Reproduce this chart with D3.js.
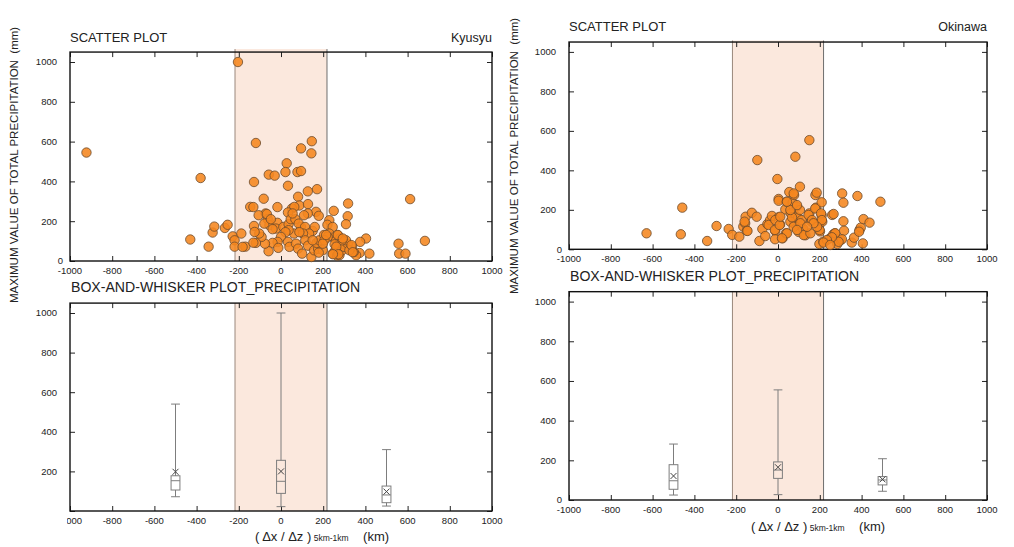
<!DOCTYPE html>
<html>
<head>
<meta charset="utf-8">
<script src="https://cdn.jsdelivr.net/npm/d3@7"></script>
<style>
  html, body { margin: 0; padding: 0; background: #fff; }
  svg { display: block; font-family: "Liberation Sans", Arial, Helvetica, sans-serif; }
</style>
</head>
<body>
<svg id="chart" width="1014" height="547"></svg>
<script>
// ---- axis ticks ----
const xTickValues = [-1000, -800, -600, -400, -200, 0, 200, 400, 600, 800, 1000];
const yTickValues = [0, 200, 400, 600, 800, 1000];

// ---- core band (Δx/Δz range) ----
const coreBand = [-218, 218];

// ---- Kyusyu: scatter (Δx/Δz in km, max total precipitation in mm) ----
const kyusyuDx = [
  -204, -922, -381, -430, -343, -324, -316, -266, -253, -229, -220, -220, -188, -169,
  -119, -128, -58, -30, 27, 21, 78, 95, 33, -82, -17, -146, -131,
  146, 144, 95, 81, 127, 171, 87, 128, 52, 63, 33, 166, 127, 179,
  250, 318, 316, 308, 229, 220, 612, 682, 557, 560, 590, 403, 375, 419, 372, 356, 345, 337,
  -73, -106, -63, -55, -128, -79, -17, -24, -40, 11, 36, 46, 68, 55, 95, 84, 109, 114,
  150, 160, 133, 104, 62, 87, 36, 21, 0, -16, -40, -13, -59, -76, -92, -103, -125, -119,
  -131, -182, 33, 40, 71, 81, 100, 115, 128, 144, 157, 176, 169, 182, 204, 198, 179, 150,
  245, 229, 248, 261, 270, 280, 285, 269, 258, 245, 266, 277, 290, 291, 300, 316, 324,
  308, 290, 221, 206, -67, -48, 269, 293, 254, 262, 272, 246, 334, 340, 198, 214
];
const kyusyuPrecip = [
  1000, 545, 417, 108, 72, 143, 173, 166, 182, 124, 104, 72, 138, 72,
  593, 397, 434, 429, 491, 447, 447, 452, 378, 313, 271, 272, 271,
  602, 541, 566, 323, 350, 361, 279, 286, 264, 272, 244, 247, 239, 227,
  252, 289, 225, 185, 205, 182, 311, 101, 87, 37, 37, 113, 96, 37, 40, 29, 45, 71,
  239, 230, 210, 180, 176, 188, 192, 163, 160, 171, 185, 210, 210, 239, 171, 188, 230, 171,
  151, 171, 138, 138, 138, 145, 155, 145, 121, 96, 91, 66, 49, 87, 121, 138, 146, 91,
  92, 71, 96, 71, 87, 62, 37, 104, 77, 20, 54, 61, 91, 104, 131, 54, 42, 104,
  171, 138, 118, 104, 129, 113, 87, 71, 54, 37, 27, 29, 54, 87, 71, 87, 54,
  104, 104, 121, 104, 236, 210, 131, 113, 84, 72, 34, 34, 80, 44, 87, 131
];

// ---- Okinawa: scatter ----
const okinawaDx = [
  -629, -458, -465, -339, -294, -236, -219, -185, -166, -155, -157, -149, -125, -99, -102,
  -89, -75, -61, -51, -38, -29, -13, -14, -3, 3, 3, 3, 10, 22, 35, 42, 38, 54, 61, 70, 77,
  83, 78, 89, 86, 96, 105, 105, 113, 99, 121, 131, 150, 150, 158, 179, 185, 182, 193, 201,
  209, 209, 212, 198, 217, 249, 259, 265, 272, 278, 284, 300, 307, 313, 313, 316, 353, 364,
  380, 390, 396, 406, 409, 438, 490,
  -45, -13, -15, 8, 11, 43, 59, 67, 75, 59, 43, 91, 107, 123, 155, 146, 163, 178, 206, 210,
  199, 187, -160, -146, 266, 388, 274, 306, 290, 258, 234, 218, 250, 170, 139, 75, 19, 91
];
const okinawaPrecip = [
  81, 211, 76, 42, 118, 103, 73, 64, 115, 165, 132, 94, 185, 452, 165,
  42, 103, 67, 128, 148, 169, 93, 51, 356, 255, 246, 162, 126, 56, 202, 241, 81, 290, 182, 236, 275,
  469, 130, 216, 165, 159, 317, 199, 148, 88, 103, 71, 553, 182, 142, 275, 287, 211, 128, 91,
  238, 172, 140, 27, 39, 56, 174, 76, 81, 51, 27, 47, 283, 236, 142, 94, 34, 59,
  270, 98, 110, 30, 153, 135, 241,
  123, 148, 98, 123, 165, 81, 140, 162, 114, 199, 241, 224, 132, 72, 81, 174, 148, 207, 182, 148,
  98, 114, 140, 93, 179, 89, 81, 51, 38, 61, 47, 34, 22, 132, 114, 283, 56, 98
];

// ---- box-and-whisker summaries at Δx/Δz = -500, 0, 500 ----
const boxCenters = [-500, 0, 500];
const kyusyuMin    = [72, 22, 25];
const kyusyuQ1     = [106, 89, 42];
const kyusyuMedian = [153, 150, 81];
const kyusyuQ3     = [178, 256, 126];
const kyusyuMax    = [540, 1000, 310];
const kyusyuMean   = [198, 200, 98];

const okinawaMin    = [25, 27, 44];
const okinawaQ1     = [54, 109, 76];
const okinawaMedian = [97, 151, 101];
const okinawaQ3     = [178, 192, 118];
const okinawaMax    = [282, 555, 208];
const okinawaMean   = [121, 165, 104];

const yLabel = "MAXIMUM VALUE OF TOTAL PRECIPITATION\u00a0\u00a0(mm)";

const svg = d3.select("#chart");
svg.append("rect").attr("width", 1014).attr("height", 547).attr("fill", "#fff");

function frame(g, x, y, opts) {
  const [x0, x1] = x.range();
  const [y0, y1] = y.range();
  const tick = 5;
  const over = opts.bandOver || 0;

  // core band
  g.append("rect")
    .attr("x", x(coreBand[0])).attr("width", x(coreBand[1]) - x(coreBand[0]))
    .attr("y", y1 - over).attr("height", y0 - y1 + over)
    .attr("fill", "#fbe8dd");
  g.append("line")
    .attr("x1", x(coreBand[0])).attr("x2", x(coreBand[0]))
    .attr("y1", y1 - over).attr("y2", y0)
    .attr("stroke", "#9a877c").attr("stroke-width", 1);
  g.append("line")
    .attr("x1", x(coreBand[1])).attr("x2", x(coreBand[1]))
    .attr("y1", y1 - over).attr("y2", y0)
    .attr("stroke", "#6e6e6e").attr("stroke-width", 1);

  // axes: inward ticks on all four sides
  const axB = d3.axisBottom(x).tickValues(xTickValues).tickSize(-tick).tickFormat("");
  const axT = d3.axisTop(x).tickValues(xTickValues).tickSize(-tick).tickFormat("");
  const axL = d3.axisLeft(y).tickValues(yTickValues).tickSize(-tick).tickFormat("");
  const axR = d3.axisRight(y).tickValues(yTickValues).tickSize(-tick).tickFormat("");
  g.append("g").attr("transform", `translate(0,${y0})`).call(axB);
  g.append("g").attr("transform", `translate(0,${y1})`).call(axT);
  g.append("g").attr("transform", `translate(${x0},0)`).call(axL);
  g.append("g").attr("transform", `translate(${x1},0)`).call(axR);
  g.selectAll(".domain").remove();
  g.selectAll(".tick line").attr("stroke", "#222").attr("stroke-width", 1);

  g.append("rect")
    .attr("x", x0).attr("y", y1).attr("width", x1 - x0).attr("height", y0 - y1)
    .attr("fill", "none").attr("stroke", "#111").attr("stroke-width", 1.4);

  // tick labels
  g.append("g").selectAll("text").data(xTickValues).join("text")
    .attr("x", d => x(d)).attr("y", y0 + 13)
    .attr("text-anchor", "middle").attr("font-size", 9.5).attr("fill", "#222")
    .text(d => d);
  g.append("g").selectAll("text").data(yTickValues).join("text")
    .attr("x", d => x0 - (d === 0 ? 7 : 13)).attr("y", d => y(d) + 3.4)
    .attr("text-anchor", "end").attr("font-size", 9.5).attr("fill", "#222")
    .text(d => d);
}

function xTitle(g, cx, baseline) {
  const t = g.append("text").attr("y", baseline).attr("fill", "#222")
    .attr("font-size", 13).attr("text-anchor", "middle").attr("x", cx);
  t.append("tspan").text("( \u0394x / \u0394z )");
  t.append("tspan").attr("font-size", 8.5).text(" 5km-1km");
  t.append("tspan").text("\u00a0\u00a0\u00a0\u00a0(km)");
}

function scatterPanel(xr, yr, dx, precip, place, titleY, rotX, rotY, bandOver) {
  const x = d3.scaleLinear().domain([-1000, 1000]).range(xr);
  const y = d3.scaleLinear().domain([0, 1050]).range(yr);
  const g = svg.append("g");
  frame(g, x, y, { bandOver });

  const pts = dx.map((d, i) => [d, precip[i]]);
  g.append("g").selectAll("circle").data(pts).join("circle")
    .attr("cx", d => x(d[0])).attr("cy", d => y(d[1])).attr("r", 4.7)
    .attr("fill", "#f5861f").attr("fill-opacity", 0.88)
    .attr("stroke", "#6b4a2c").attr("stroke-width", 0.8);

  g.append("text").attr("x", xr[0]).attr("y", titleY)
    .attr("font-size", 13).attr("fill", "#222").text("SCATTER PLOT");
  g.append("text").attr("x", xr[1]).attr("y", titleY).attr("text-anchor", "end")
    .attr("font-size", 12.5).attr("fill", "#222").text(place);

  g.append("text").attr("transform", `translate(${rotX},${rotY}) rotate(-90)`)
    .attr("text-anchor", "middle").attr("font-size", 11.5).attr("fill", "#222")
    .text(yLabel);
}

function boxPanel(xr, yr, stats, titleY) {
  const x = d3.scaleLinear().domain([-1000, 1000]).range(xr);
  const y = d3.scaleLinear().domain([0, 1050]).range(yr);
  const g = svg.append("g");
  frame(g, x, y, {});

  const half = 21;
  const col = "#7d7d7d";
  const boxes = boxCenters.map((c, i) => ({
    c, min: stats.min[i], q1: stats.q1[i], med: stats.median[i],
    q3: stats.q3[i], max: stats.max[i], mean: stats.mean[i]
  }));
  const b = g.append("g").selectAll("g").data(boxes).join("g")
    .attr("fill", "none").attr("stroke", col).attr("stroke-width", 1);
  // whiskers
  b.append("line").attr("x1", d => x(d.c)).attr("x2", d => x(d.c))
    .attr("y1", d => y(d.max)).attr("y2", d => y(d.q3));
  b.append("line").attr("x1", d => x(d.c)).attr("x2", d => x(d.c))
    .attr("y1", d => y(d.q1)).attr("y2", d => y(d.min));
  // caps
  b.append("line").attr("x1", d => x(d.c - half)).attr("x2", d => x(d.c + half))
    .attr("y1", d => y(d.max)).attr("y2", d => y(d.max));
  b.append("line").attr("x1", d => x(d.c - half)).attr("x2", d => x(d.c + half))
    .attr("y1", d => y(d.min)).attr("y2", d => y(d.min));
  // box and median
  b.append("rect").attr("x", d => x(d.c - half)).attr("width", d => x(d.c + half) - x(d.c - half))
    .attr("y", d => y(d.q3)).attr("height", d => y(d.q1) - y(d.q3));
  b.append("line").attr("x1", d => x(d.c - half)).attr("x2", d => x(d.c + half))
    .attr("y1", d => y(d.med)).attr("y2", d => y(d.med));
  // mean marker
  const m = 3;
  b.append("path").attr("stroke", "#444")
    .attr("d", d => {
      const cx = x(d.c), cy = y(d.mean);
      return `M${cx - m},${cy - m}L${cx + m},${cy + m}M${cx - m},${cy + m}L${cx + m},${cy - m}`;
    });

  g.append("text").attr("x", xr[0] + 1).attr("y", titleY)
    .attr("font-size", 14.1).attr("fill", "#222").text("BOX-AND-WHISKER PLOT_PRECIPITATION");
  return g;
}

// Kyusyu (left column)
scatterPanel([70, 492], [261, 62 - 0.1987 * 50], kyusyuDx, kyusyuPrecip, "Kyusyu", 42, 18, 165, 3);
boxPanel([70, 492], [511, 313 - 0.198 * 50],
  { min: kyusyuMin, q1: kyusyuQ1, median: kyusyuMedian, q3: kyusyuQ3, max: kyusyuMax, mean: kyusyuMean }, 292);
xTitle(svg, 322, 541);
// the left column's lower-left corner is trimmed
svg.append("rect").attr("x", 0).attr("y", 503).attr("width", 67).attr("height", 30).attr("fill", "#fff");

// Okinawa (right column)
scatterPanel([569, 987], [249.3, 51.9 - 0.1974 * 50], okinawaDx, okinawaPrecip, "Okinawa", 31, 518, 156, 1.5);
boxPanel([569, 987], [500, 301.6 - 0.1984 * 50],
  { min: okinawaMin, q1: okinawaQ1, median: okinawaMedian, q3: okinawaQ3, max: okinawaMax, mean: okinawaMean }, 281);
xTitle(svg, 818, 531);
</script>
</body>
</html>
